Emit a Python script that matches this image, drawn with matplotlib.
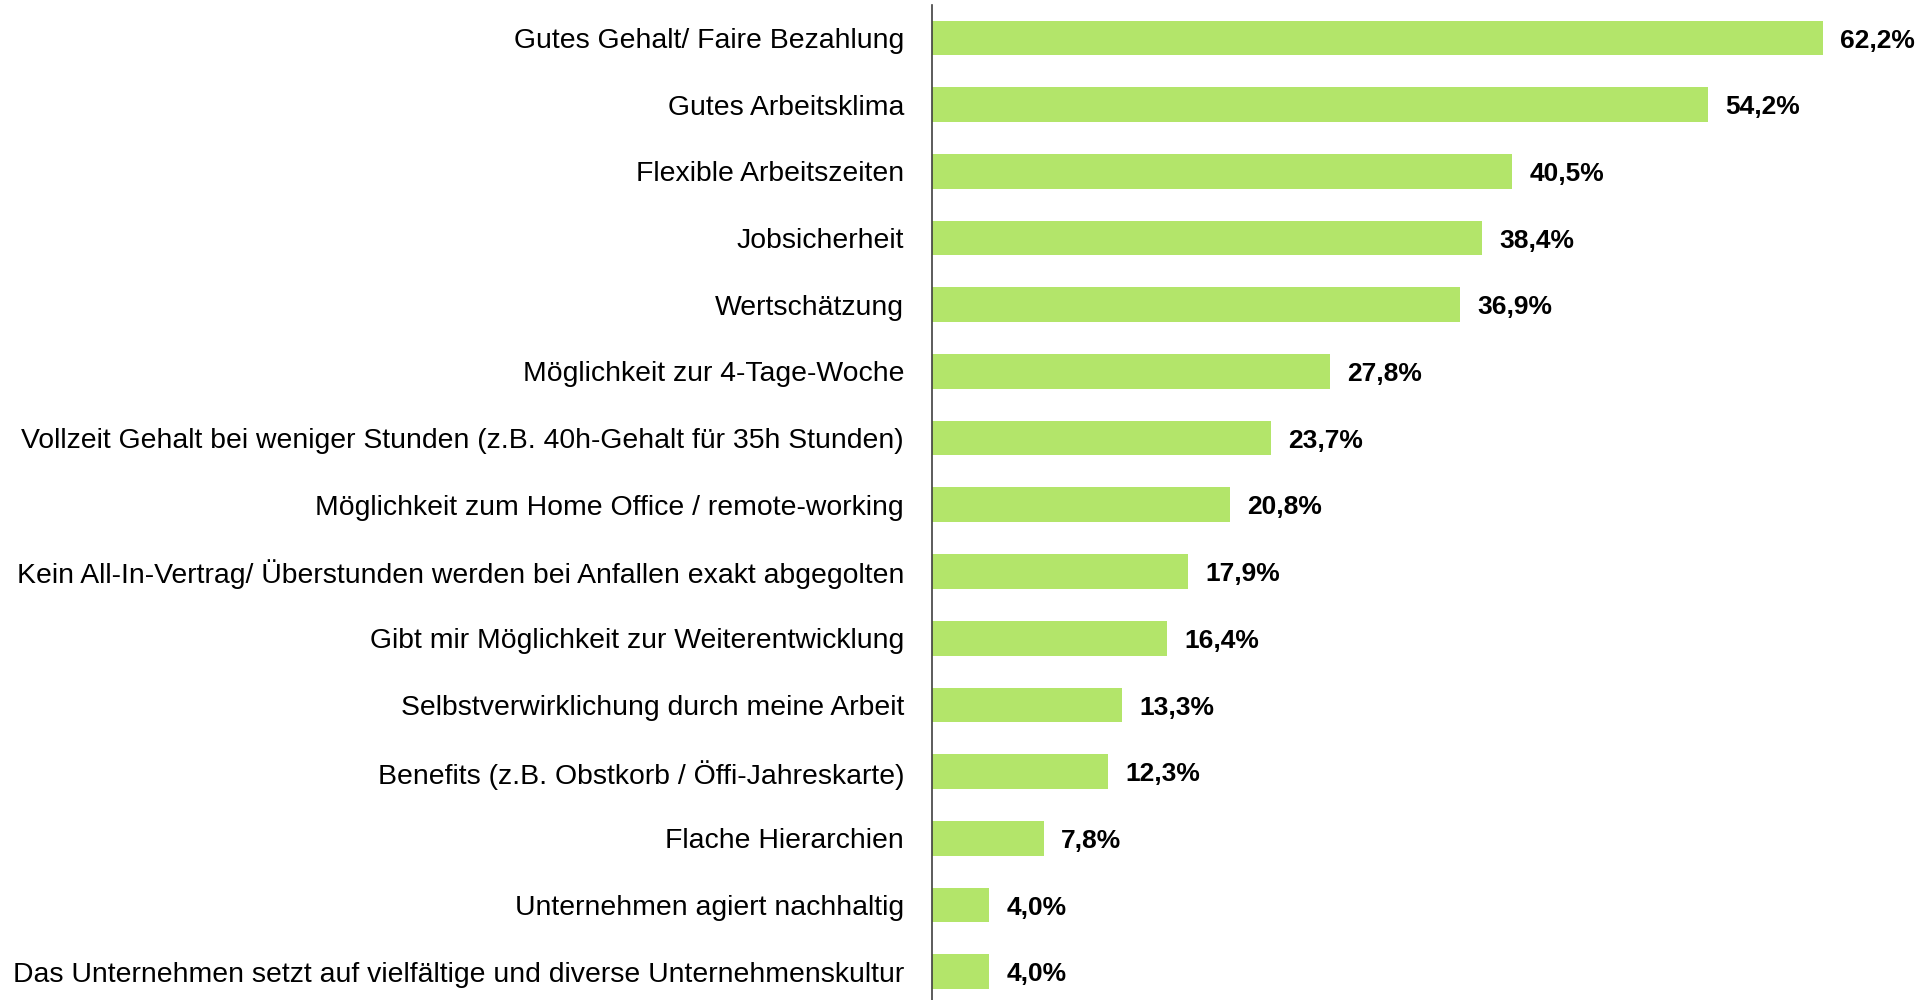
import matplotlib.pyplot as plt

plt.rcParams['font.family'] = ['Liberation Sans', 'DejaVu Sans']

categories = [
    "Gutes Gehalt/ Faire Bezahlung",
    "Gutes Arbeitsklima",
    "Flexible Arbeitszeiten",
    "Jobsicherheit",
    "Wertschätzung",
    "Möglichkeit zur 4-Tage-Woche",
    "Vollzeit Gehalt bei weniger Stunden (z.B. 40h-Gehalt für 35h Stunden)",
    "Möglichkeit zum Home Office / remote-working",
    "Kein All-In-Vertrag/ Überstunden werden bei Anfallen exakt abgegolten",
    "Gibt mir Möglichkeit zur Weiterentwicklung",
    "Selbstverwirklichung durch meine Arbeit",
    "Benefits (z.B. Obstkorb / Öffi-Jahreskarte)",
    "Flache Hierarchien",
    "Unternehmen agiert nachhaltig",
    "Das Unternehmen setzt auf vielfältige und diverse Unternehmenskultur",
]
values = [62.2, 54.2, 40.5, 38.4, 36.9, 27.8, 23.7, 20.8, 17.9, 16.4, 13.3, 12.3, 7.8, 4.0, 4.0]

fig = plt.figure(figsize=(19.31, 10), dpi=100)
ax = fig.add_axes([0.4826, 0.0, 0.5174, 0.995])

y = list(range(len(categories)))
ax.barh(y, values, height=0.52, color='#b3e56a')

# value labels, slightly below bar centre as in the original
for yi, v in zip(y, values):
    ax.text(v + 1.2, yi + 0.04, f"{v:.1f}%".replace('.', ','), va='center', ha='left',
            fontsize=19, fontweight='bold', color='black')

ax.set_yticks(y)
ax.set_yticklabels(categories, fontsize=20.4)
ax.tick_params(axis='y', length=0, pad=20)
ax.set_xticks([])
ax.set_xlim(0, 69.76)
ax.set_ylim(14.424, -0.493)

for s in ['top', 'right', 'bottom']:
    ax.spines[s].set_visible(False)
ax.spines['left'].set_color('#404040')
ax.spines['left'].set_linewidth(1.2)

fig.savefig('out.png', dpi=100)
